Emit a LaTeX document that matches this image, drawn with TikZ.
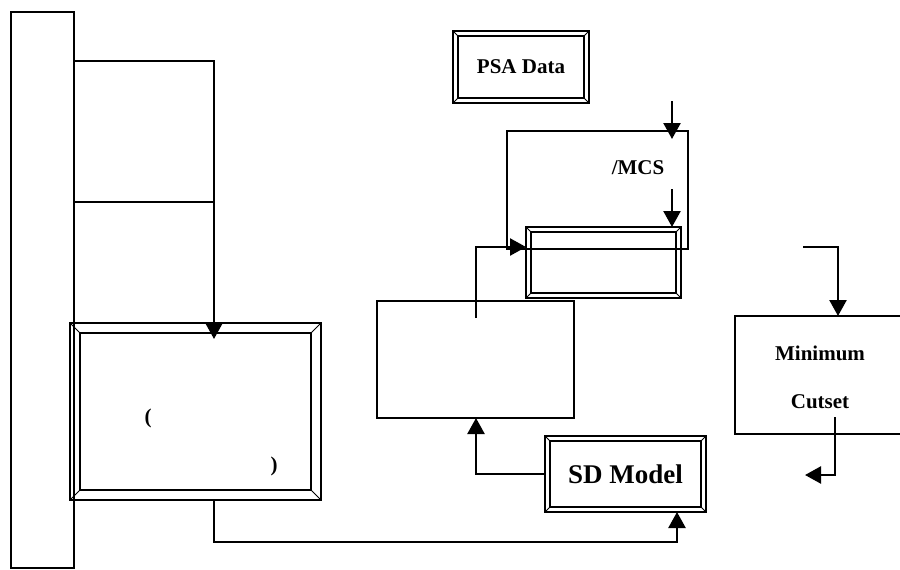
\documentclass[tikz,border=0pt]{standalone}
\usepackage{fontspec}
\setmainfont{Liberation Serif}
\usetikzlibrary{arrows.meta,calc}
\tikzset{
  plain/.style={draw, line width=2.4pt, inner sep=0pt, outer sep=0pt, rectangle},
  arr/.style={line width=2.4pt, -{Triangle[width=17pt,length=16pt]}},
  lbl/.style={font=\bfseries\fontsize{21}{25}\selectfont, inner sep=0pt},
  big lbl/.style={font=\bfseries\fontsize{27}{31}\selectfont, inner sep=0pt},
  innerline/.style={line width=2.4pt},
  bevline/.style={line width=1pt},
}
\newcommand\bevelize[2]{%
  \draw[innerline] ([shift={(#2,#2)}]#1.north west) rectangle ([shift={(-#2,-#2)}]#1.south east);
  \draw[bevline] (#1.north west) -- ++(#2,#2) (#1.north east) -- ++(-#2,#2)
                 (#1.south west) -- ++(#2,-#2) (#1.south east) -- ++(-#2,-#2);
}
\begin{document}
\begin{tikzpicture}[x=1pt,y=-1pt]
\useasboundingbox (0,0) rectangle (900,570);
% boxes
\node[plain, minimum width=63pt, minimum height=556pt] (tall) at (42.5,290) {};
\node[plain, minimum width=140pt, minimum height=141pt] (topr) at (144,131.5) {};
\node[plain, minimum width=251pt, minimum height=177pt] (big) at (195.5,411.5) {};
\bevelize{big}{10}
\node[plain, minimum width=136pt, minimum height=72pt, lbl] (psa) at (521,67) {PSA Data};
\bevelize{psa}{5}
\node[plain, minimum width=181pt, minimum height=118pt] (mcsbox) at (597.5,190) {};
\node[plain, minimum width=155pt, minimum height=71pt] (sm) at (603.5,262.5) {};
\bevelize{sm}{5}
\node[plain, minimum width=197pt, minimum height=117pt] (mid) at (475.5,359.5) {};
\node[plain, minimum width=161pt, minimum height=76pt, big lbl] (sd) at (625.5,474) {SD Model};
\bevelize{sd}{5}
\node[plain, minimum width=172pt, minimum height=118pt] (mc) at (821,375) {};
% texts
\node[lbl] (lp) at (148,418) {(};
\node[lbl] (rp) at (274,466) {)};
\node[lbl] (mcs) at (638,168) {/MCS};
\node[lbl] (mintxt) at (820,353) {Minimum};
\node[lbl] (cuttxt) at (820,402) {Cutset};
% connectors
\draw[arr] (topr.south east) -- ($(topr.south east |- big.north)+(0,16)$);
\draw[arr] (topr.south east |- big.south) -- ++(0,42) -| ($(sd.south west)+(132,0)$);
\draw[arr] (sd.west) -| ($(mid.south west)+(99,0)$);
\coordinate (s4) at (476,318);
\draw[arr] (s4) |- ($(sm.north west)+(0,20)$);
\coordinate (s5) at (672,101);
\draw[arr] (s5) -- ++(0,38);
\coordinate (s6) at (672,189);
\draw[arr] (s6) -- (s6 |- sm.north);
\coordinate (s7) at (803,247);
\draw[arr] (s7) -| ($(mc.north west)+(103,0)$);
\coordinate (s8) at ($(mc.south west)+(100,-17)$);
\draw[arr] (s8) |- ++(-30,58);
\end{tikzpicture}
\end{document}
